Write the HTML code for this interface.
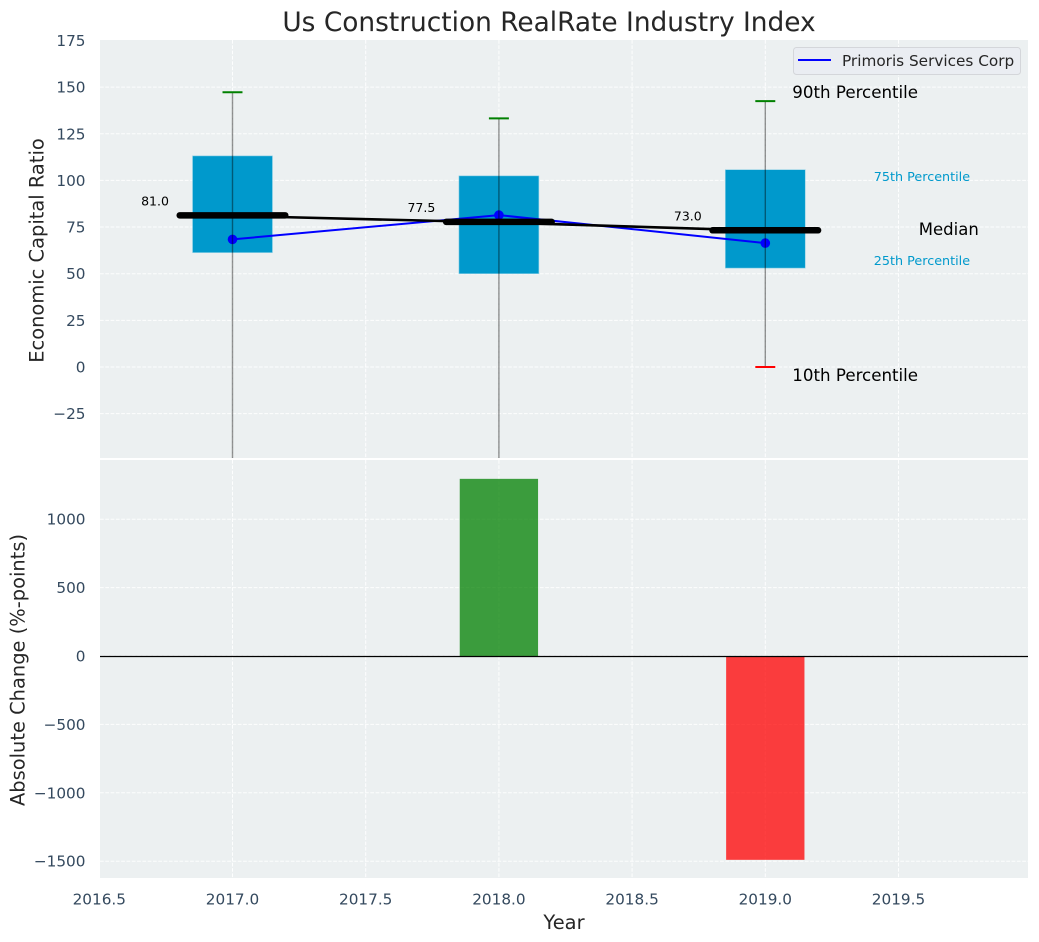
<!DOCTYPE html>
<html lang="en">
<head>
<meta charset="utf-8">
<title>Us Construction RealRate Industry Index</title>
<style>
html,body{margin:0;padding:0;background:#fff;width:1039px;height:942px;overflow:hidden}
svg{display:block;font-family:"DejaVu Sans","Liberation Sans",sans-serif}
</style>
</head>
<body>
<svg id="chart" xmlns="http://www.w3.org/2000/svg" width="1039" height="942" viewBox="0 0 1039 942">
  <defs>
    <clipPath id="clip-top"><rect x="100" y="40" width="928" height="418"></rect></clipPath>
    <clipPath id="clip-bottom"><rect x="100" y="460" width="928" height="418"></rect></clipPath>
  </defs>
  <rect x="100" y="40" width="928" height="418" fill="#ecf0f1"></rect>
  <rect x="100" y="460" width="928" height="418" fill="#ecf0f1"></rect>
  <g id="grid-layer"></g>
  <g id="top-marks" clip-path="url(#clip-top)"></g>
  <g id="bottom-marks" clip-path="url(#clip-bottom)"></g>
  <g id="labels"></g>
  <text x="549" y="31" text-anchor="middle" font-size="26.4px" fill="#262626">Us Construction RealRate Industry Index</text>
  <text transform="translate(43.5,250.5) rotate(-90)" text-anchor="middle" font-size="19.44px" fill="#262626">Economic Capital Ratio</text>
  <text transform="translate(24.5,670) rotate(-90)" text-anchor="middle" font-size="19.44px" fill="#262626">Absolute Change (%-points)</text>
  <text x="564" y="929" text-anchor="middle" font-size="19.44px" fill="#262626">Year</text>
  <g>
    <rect x="793.5" y="47.5" width="227" height="27" rx="3" fill="#eaedf2" stroke="#d4d6da" stroke-width="1"></rect>
    <line x1="798" y1="60" x2="831" y2="60" stroke="#0000ff" stroke-width="2"></line>
    <text x="842" y="66" font-size="15.28px" fill="#262626">Primoris Services Corp</text>
  </g>
</svg>
<script>
// Chart data
const years = [2017, 2018, 2019];
const p90 = [147, 133, 142.3];
const p75 = [113.4, 102.7, 106];
const medians = [81, 77.5, 73];
const p25 = [61.3, 50, 53];
const p10 = [-60, -60, 0];
const companyValues = [68.4, 81.4, 66.4];
const absoluteChange = [0, 1295, -1490];
const xTicks = [2016.5, 2017, 2017.5, 2018, 2018.5, 2019, 2019.5];
const topYTicks = [175, 150, 125, 100, 75, 50, 25, 0, -25];
const bottomYTicks = [1000, 500, 0, -500, -1000, -1500];
const seriesName = 'Primoris Services Corp';

const NS = 'http://www.w3.org/2000/svg';
const xOf = function (v) { return 232.5 + (v - 2017) * 266.4; };
const yTop = function (v) { return 367 - v * 1.866; };
const yBottom = function (v) { return 656 - v * 0.1368; };
const halfBox = 0.15;
const halfCap = 0.0375;
const halfMedian = 0.2;
const tickFont = '15.28px';
const tickColor = '#34495e';

function mk(tag, attrs, parent, txt) {
  const el = document.createElementNS(NS, tag);
  for (const k in attrs) { el.setAttribute(k, attrs[k]); }
  if (txt !== undefined) { el.textContent = txt; }
  parent.appendChild(el);
  return el;
}

const grid = document.getElementById('grid-layer');
const top_ = document.getElementById('top-marks');
const bottom = document.getElementById('bottom-marks');
const labels = document.getElementById('labels');
const gridStyle = { stroke: '#ffffff', 'stroke-width': 1, 'stroke-opacity': 0.9, 'stroke-dasharray': '3.7 1.6' };

// grid lines and tick labels
xTicks.forEach(function (t) {
  [[40, 458], [460, 878]].forEach(function (r) {
    const g = mk('line', Object.assign({ x1: xOf(t), x2: xOf(t), y1: r[0], y2: r[1] }, gridStyle), grid);
    
    
  });
  const l = mk('text', { x: xOf(t), y: 904.5, 'text-anchor': 'middle', 'font-size': tickFont, fill: tickColor }, labels, t.toFixed(1));
  
  
});
topYTicks.forEach(function (t) {
  if (t !== 175) {
    const g = mk('line', Object.assign({ x1: 100, x2: 1028, y1: yTop(t), y2: yTop(t) }, gridStyle), grid);
    
    
  }
  const l = mk('text', { x: 85.5, y: yTop(t) + 5.5, 'text-anchor': 'end', 'font-size': tickFont, fill: tickColor }, labels, String(t).replace('-', '\u2212'));
  
  
});
bottomYTicks.forEach(function (t) {
  const g = mk('line', Object.assign({ x1: 100, x2: 1028, y1: yBottom(t), y2: yBottom(t) }, gridStyle), grid);
  
  
  const l = mk('text', { x: 85.5, y: yBottom(t) + 5.5, 'text-anchor': 'end', 'font-size': tickFont, fill: tickColor }, labels, String(t).replace('-', '\u2212'));
  
  
});

// IQR boxes
years.forEach(function (yr, i) {
  const b = mk('rect', {
    x: xOf(yr - halfBox), y: yTop(p75[i]) + 0.5,
    width: xOf(yr + halfBox) - xOf(yr - halfBox), height: yTop(p25[i]) - yTop(p75[i]) - 0.5,
    fill: '#0099cc', stroke: '#8fd0e6', 'stroke-width': 0.6
  }, top_);
  
  
});

// company series
const companyLine = mk('polyline', {
  points: years.map(function (yr, i) { return xOf(yr) + ',' + yTop(companyValues[i]); }).join(' '),
  fill: 'none', stroke: '#0000ff', 'stroke-width': 2
}, top_);


years.forEach(function (yr, i) {
  const p = mk('circle', { cx: xOf(yr), cy: yTop(companyValues[i]), r: 4.8, fill: '#0000ff' }, top_);
  
  
});

// whiskers and caps
years.forEach(function (yr, i) {
  const w = mk('line', { x1: xOf(yr), x2: xOf(yr), y1: yTop(p90[i]), y2: yTop(p10[i]), stroke: '#000000', 'stroke-opacity': 0.42, 'stroke-width': 1.4 }, top_);
  
  
  const c1 = mk('line', { x1: xOf(yr - halfCap), x2: xOf(yr + halfCap), y1: yTop(p90[i]) - 0.4, y2: yTop(p90[i]) - 0.4, stroke: '#008000', 'stroke-width': 2 }, top_);
  
  
  const c2 = mk('line', { x1: xOf(yr - halfCap), x2: xOf(yr + halfCap), y1: yTop(p10[i]), y2: yTop(p10[i]), stroke: '#ff0000', 'stroke-width': 2 }, top_);
  
  
});

// median connector and median bars
const medianLine = mk('polyline', {
  points: years.map(function (yr, i) { return xOf(yr) + ',' + yTop(medians[i]); }).join(' '),
  fill: 'none', stroke: '#000000', 'stroke-width': 2.6
}, top_);


years.forEach(function (yr, i) {
  const m = mk('line', { x1: xOf(yr - halfMedian) + 0.5, x2: xOf(yr + halfMedian) - 0.5, y1: yTop(medians[i]) - 0.5, y2: yTop(medians[i]) - 0.5, stroke: '#000000', 'stroke-width': 6.5, 'stroke-linecap': 'round' }, top_);
  
  
  const t = mk('text', { x: xOf(yr) - 77.5, y: yTop(medians[i]) - 10.5, 'text-anchor': 'middle', 'font-size': '12.5px', fill: '#000000' }, labels, medians[i].toFixed(1));
  
  
});

// percentile annotations next to the last box
const last = years.length - 1;
const a90 = mk('text', { x: xOf(years[last]) + 27, y: yTop(p90[last]) - 3.5, 'font-size': '16.67px', fill: '#000000' }, labels, '90th Percentile');


const a10 = mk('text', { x: xOf(years[last]) + 27, y: yTop(p10[last]) + 14, 'font-size': '16.67px', fill: '#000000' }, labels, '10th Percentile');


const aMed = mk('text', { x: xOf(years[last]) + 153.5, y: yTop(medians[last]) + 4, 'font-size': '16.5px', fill: '#000000' }, labels, 'Median');


const a75 = mk('text', { x: xOf(years[last]) + 108.5, y: yTop(p75[last]) + 12, 'font-size': '12.75px', fill: '#0099cc' }, labels, '75th Percentile');


const a25 = mk('text', { x: xOf(years[last]) + 108.5, y: yTop(p25[last]) - 3, 'font-size': '12.75px', fill: '#0099cc' }, labels, '25th Percentile');



// absolute change bars
years.forEach(function (yr, i) {
  const v = absoluteChange[i];
  if (v === 0) { return; }
  const b = mk('rect', {
    x: xOf(yr - 0.147), width: xOf(yr + 0.147) - xOf(yr - 0.147),
    y: Math.min(yBottom(v), yBottom(0)), height: Math.abs(yBottom(v) - yBottom(0)),
    fill: v > 0 ? '#008000' : '#ff0000', 'fill-opacity': 0.75
  }, bottom);
  
  
});
const zero = mk('line', { x1: 100, x2: 1028, y1: yBottom(0) + 0.5, y2: yBottom(0) + 0.5, stroke: '#000000', 'stroke-width': 1.2 }, bottom);


</script>
</body>
</html>
